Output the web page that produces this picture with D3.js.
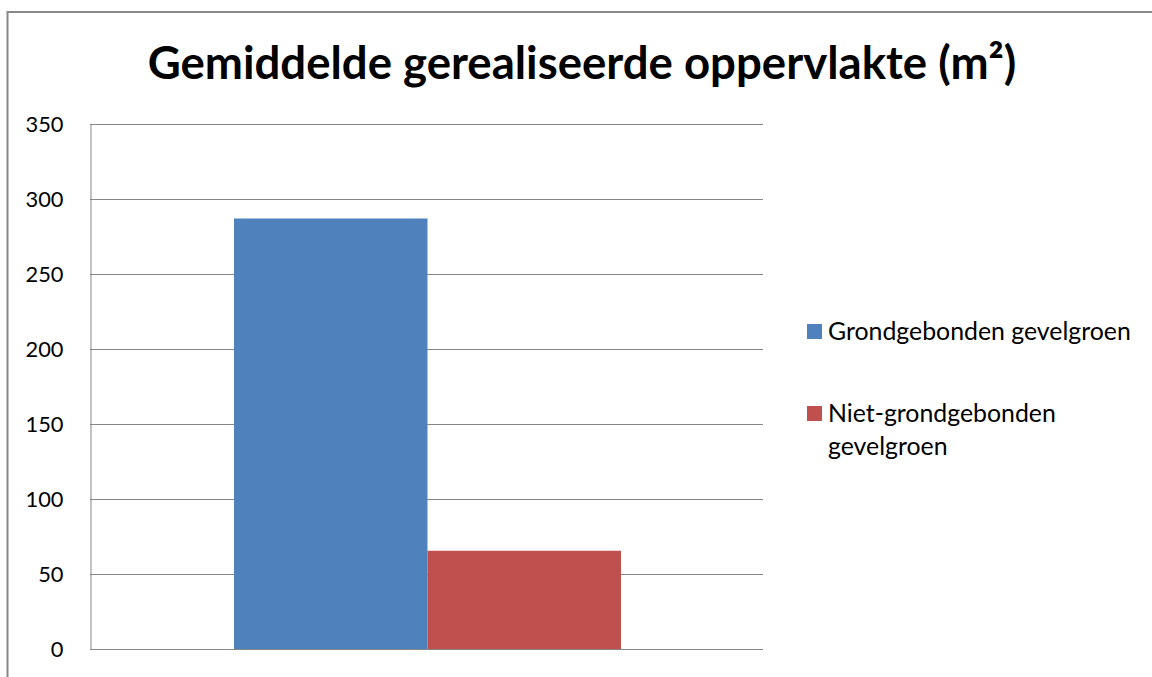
<!DOCTYPE html>
<html><head><meta charset="utf-8">
<script src="https://cdn.jsdelivr.net/npm/d3@7"></script>
<style>body{margin:0;background:#fff}svg{display:block}</style>
</head><body>
<script>
const title = "Gemiddelde gerealiseerde oppervlakte (m²)";
const seriesNames = ["Grondgebonden gevelgroen", "Niet-grondgebonden gevelgroen"];
const seriesValues = [287, 65.5];
const seriesColors = ["#4f81bd", "#c0504d"];
const yTicks = [0, 50, 100, 150, 200, 250, 300, 350];

const W = 1152, H = 677;
const svg = d3.select("body").append("svg").attr("width", W).attr("height", H);
const font = "Lato, 'Open Sans', sans-serif";

function fit(txt, width, weight) {
  const p = svg.append("text").attr("font-family", font).attr("font-weight", weight || "normal")
    .attr("font-size", 20).text(txt);
  const s = 20 * width / p.node().getComputedTextLength();
  p.remove();
  return s;
}
const fs = fit(seriesNames[0], 303);
const tfs = fit("350", 38);

// outer border
svg.append("rect").attr("x", 7.5).attr("y", 12).attr("width", 1160).attr("height", 700)
  .attr("fill", "none").attr("stroke", "#888").attr("stroke-width", 2);

const plot = {left: 90, right: 763, top: 124, bottom: 649};
const y = d3.scaleLinear().domain([0, 350]).range([plot.bottom, plot.top]);
const xs = d3.scaleBand().domain(seriesNames).range([234, 621]);

// gridlines
svg.append("g").selectAll("line").data(yTicks.filter(d => d > 0)).join("line")
  .attr("x1", plot.left).attr("x2", plot.right)
  .attr("y1", d => Math.round(y(d)) + 0.5).attr("y2", d => Math.round(y(d)) + 0.5)
  .attr("stroke", "#868686").attr("stroke-width", 1);

// bars
svg.append("g").selectAll("rect").data(seriesValues).join("rect")
  .attr("x", (d, i) => xs(seriesNames[i])).attr("width", xs.bandwidth())
  .attr("y", d => y(d)).attr("height", d => y(0) - y(d))
  .attr("fill", (d, i) => seriesColors[i]);

// axes
const yAxis = d3.axisLeft(y).tickValues(yTicks).tickSize(0).tickPadding(27);
const ga = svg.append("g").attr("transform", `translate(${plot.left + 0.5},0)`).call(yAxis);
ga.select(".domain").attr("stroke", "#868686");
ga.selectAll("text").attr("font-family", font).attr("font-size", tfs).attr("fill", "#000").attr("dy", "0.36em");
svg.append("line").attr("x1", plot.left).attr("x2", plot.right)
  .attr("y1", plot.bottom + 0.5).attr("y2", plot.bottom + 0.5).attr("stroke", "#868686");

// title
const t = svg.append("text").attr("x", 582).attr("y", 79).attr("text-anchor", "middle")
  .attr("font-family", font).attr("font-weight", "bold").attr("font-size", fit(title, 869, "bold")).text(title);

// legend
const lg = svg.append("g");
lg.append("rect").attr("x", 807).attr("y", 324).attr("width", 15).attr("height", 15).attr("fill", seriesColors[0]);
lg.append("text").attr("x", 828).attr("y", 340).attr("font-family", font).attr("font-size", fs).text(seriesNames[0]);
lg.append("rect").attr("x", 807).attr("y", 406).attr("width", 15).attr("height", 15).attr("fill", seriesColors[1]);
const t2 = lg.append("text").attr("font-family", font).attr("font-size", fs);
t2.append("tspan").attr("x", 828).attr("y", 422).text("Niet-grondgebonden");
t2.append("tspan").attr("x", 828).attr("y", 455).text("gevelgroen");
</script>
</body></html>
